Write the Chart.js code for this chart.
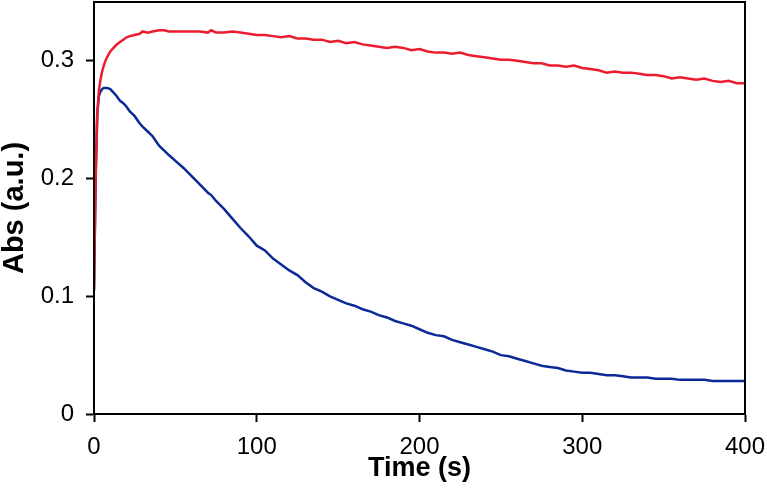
<!DOCTYPE html>
<html>
<head>
<meta charset="utf-8">
<script src="https://cdn.jsdelivr.net/npm/chart.js@4/dist/chart.umd.min.js"></script>
<style>
  body { margin: 0; background: #fff; }
  #wrap { width: 767px; height: 493px; }
</style>
</head>
<body>
<div id="wrap"><canvas id="absChart" width="767" height="493"></canvas></div>
<script>
"use strict";

// time axis (s), shared by both traces
var times = [0, 1, 2, 3, 4, 5, 6, 7, 8, 10, 12, 14, 16, 18, 20, 22, 25, 28, 30, 33, 36, 40, 43, 46,
  50, 55, 60, 65, 70, 72, 75, 80, 85, 90, 95, 100, 105, 110, 115, 120, 125, 130, 135, 140, 145,
  150, 155, 160, 165, 170, 175, 180, 185, 190, 195, 200, 205, 210, 215, 220, 225, 230, 235, 240,
  245, 250, 255, 260, 265, 270, 275, 280, 285, 290, 295, 300, 305, 310, 315, 320, 325, 330, 335,
  340, 345, 350, 355, 360, 365, 370, 375, 380, 385, 390, 395, 400];

// red trace
var redAbs = [0.105, 0.200, 0.255, 0.275, 0.284, 0.291, 0.296, 0.300, 0.303, 0.308, 0.311, 0.314,
  0.316, 0.318, 0.320, 0.321, 0.322, 0.323, 0.325, 0.324, 0.325, 0.326, 0.326, 0.325,
  0.325, 0.325, 0.325, 0.325, 0.324, 0.326, 0.324, 0.324, 0.325, 0.324, 0.323, 0.322, 0.322, 0.321,
  0.320, 0.321, 0.319, 0.319, 0.318, 0.318, 0.316, 0.317, 0.315, 0.316, 0.314, 0.313, 0.312, 0.311,
  0.312, 0.311, 0.309, 0.310, 0.308, 0.307, 0.307, 0.306, 0.307, 0.305, 0.304, 0.303, 0.302, 0.301,
  0.301, 0.300, 0.299, 0.298, 0.298, 0.296, 0.296, 0.295, 0.296, 0.294, 0.293, 0.292, 0.290, 0.291,
  0.290, 0.290, 0.289, 0.288, 0.288, 0.287, 0.285, 0.286, 0.285, 0.284, 0.285, 0.283, 0.282, 0.283,
  0.281, 0.281];

// blue trace
var blueAbs = [0.105, 0.200, 0.255, 0.270, 0.274, 0.276, 0.277, 0.277, 0.277, 0.276, 0.273, 0.270,
  0.266, 0.264, 0.261, 0.257, 0.253, 0.247, 0.244, 0.240, 0.236, 0.228, 0.224, 0.220,
  0.215, 0.209, 0.202, 0.195, 0.188, 0.186, 0.181, 0.174, 0.166, 0.158, 0.151, 0.143, 0.139, 0.132,
  0.127, 0.122, 0.118, 0.112, 0.107, 0.104, 0.100, 0.097, 0.094, 0.092, 0.089, 0.087, 0.084, 0.082,
  0.079, 0.077, 0.075, 0.072, 0.069, 0.067, 0.066, 0.063, 0.061, 0.059, 0.057, 0.055, 0.053, 0.050,
  0.049, 0.047, 0.045, 0.043, 0.041, 0.040, 0.039, 0.037, 0.036, 0.035, 0.035, 0.034, 0.033, 0.033,
  0.032, 0.031, 0.031, 0.031, 0.030, 0.030, 0.030, 0.029, 0.029, 0.029, 0.029, 0.028, 0.028, 0.028,
  0.028, 0.028];

var yTicks = [0, 0.1, 0.2, 0.3];

function toPoints(vals) {
  return times.map((t, i) => ({ x: t, y: vals[i] }));
}

// no extra room for overhanging tick labels
function noPad(scale) {
  scale.paddingTop = 0;
  scale.paddingBottom = 0;
  scale.paddingLeft = 0;
  scale.paddingRight = 0;
}

// box round the plot area
var frame = {
  id: "frame",
  afterDraw(chart) {
    const a = chart.chartArea;
    const c = chart.ctx;
    c.save();
    c.strokeStyle = "#000";
    c.lineWidth = 2;
    c.strokeRect(a.left, a.top, a.right - a.left, a.bottom - a.top);
    c.restore();
  }
};

var font = "'Liberation Sans', Arial, sans-serif";

var ctx = document.getElementById("absChart").getContext("2d");
var myChart = new Chart(ctx, {
  type: "line",
  data: {
    datasets: [{
      data: toPoints(redAbs),
      borderColor: "#ec1c2e",
      borderWidth: 2.5,
      pointRadius: 0,
      tension: 0
    }, {
      data: toPoints(blueAbs),
      borderColor: "#0b2a98",
      borderWidth: 2.5,
      pointRadius: 0,
      tension: 0
    }]
  },
  options: {
    responsive: false,
    animation: false,
    layout: { padding: { left: 0, right: 22, top: 2, bottom: 0 } },
    plugins: { legend: { display: false }, tooltip: { enabled: false } },
    scales: {
      x: {
        type: "linear",
        min: 0,
        max: 400,
        ticks: { stepSize: 100, color: "#000", padding: 11, maxRotation: 0,
          font: { family: font, size: 24 } },
        grid: { drawOnChartArea: false, tickLength: 8, tickWidth: 2, tickColor: "#000" },
        border: { color: "#000", width: 2 },
        title: { display: true, text: "Time (s)", color: "#000", padding: { top: 0, bottom: 8 },
          font: { family: font, size: 27, weight: "bold" } },
        afterFit(scale) { scale.height = 79; noPad(scale); }
      },
      y: {
        min: 0,
        max: 0.35,
        ticks: { color: "#000", padding: 12,
          font: { family: font, size: 24 },
          callback: (v) => (v === 0 ? "0" : v.toFixed(1)) },
        afterBuildTicks(scale) { scale.ticks = yTicks.map((v) => ({ value: v })); },
        grid: { drawOnChartArea: false, tickLength: 8, tickWidth: 2, tickColor: "#000" },
        border: { color: "#000", width: 2 },
        title: { display: true, text: "Abs (a.u.)", color: "#000", padding: { top: 0, bottom: 0 },
          font: { family: font, size: 29, weight: "bold", lineHeight: 1 } },
        afterFit(scale) { scale.width = 94; noPad(scale); }
      }
    }
  },
  plugins: [frame]
});
</script>
</body>
</html>
